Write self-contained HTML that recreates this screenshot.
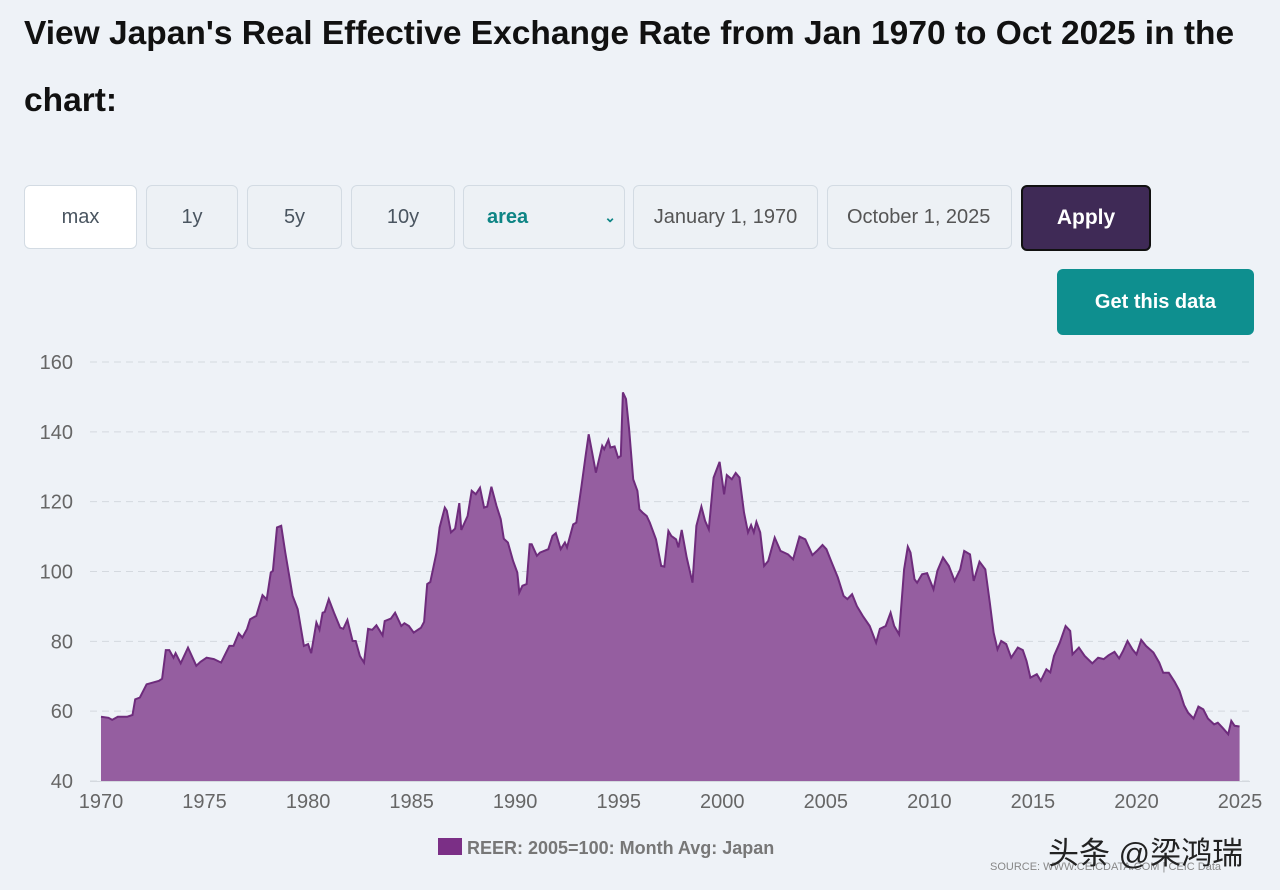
<!DOCTYPE html>
<html><head><meta charset="utf-8">
<style>
body{margin:0;width:1280px;height:890px;background:#eef2f7;font-family:"Liberation Sans",sans-serif;position:relative;overflow:hidden}
h1{position:absolute;left:24px;top:0px;margin:0;font-size:33.5px;font-weight:bold;color:#111;line-height:67px;width:1250px}
.btn{position:absolute;top:185px;height:64px;box-sizing:border-box;border:1px solid #d3dbe3;border-radius:6px;background:#edf1f5;color:#4a5560;font-size:20px;display:flex;align-items:center;justify-content:center}
#chart{position:absolute;left:0;top:0}
</style></head><body>
<h1>View Japan's Real Effective Exchange Rate from Jan 1970 to Oct 2025 in the chart:</h1>
<div class="btn" style="left:24px;width:113px;background:#fff">max</div>
<div class="btn" style="left:146px;width:92px">1y</div>
<div class="btn" style="left:247px;width:95px">5y</div>
<div class="btn" style="left:351px;width:104px">10y</div>
<div class="btn" style="left:463px;width:162px;justify-content:space-between;padding:0 8px 0 23px;color:#0e8585;font-weight:bold">area<span style="font-size:14px;color:#0e8585">&#8964;</span></div>
<div class="btn" style="left:633px;width:185px;color:#555">January 1, 1970</div>
<div class="btn" style="left:827px;width:185px;color:#555;overflow:hidden;justify-content:flex-start;padding-left:19px;white-space:nowrap">October 1, 2025</div>
<div class="btn" style="left:1021px;width:130px;height:66px;background:#3f2a56;border:2px solid #111;color:#fff;font-weight:bold;font-size:21px">Apply</div>
<div class="btn" style="left:1057px;top:269px;width:197px;height:66px;background:#0e8f8f;border:none;color:#fff;font-weight:bold;font-size:20px">Get this data</div>
<svg id="chart" width="1280" height="890"></svg>
<div style="position:absolute;left:990px;top:861px;font-size:11px;color:#888">SOURCE: WWW.CEICDATA.COM | CEIC Data</div>
<div style="position:absolute;left:1048px;top:828px;font-size:31px;color:#222;font-family:'Liberation Sans','Noto Sans CJK SC',sans-serif">头条 @梁鸿瑞</div>
<script>
const years=[1970.0,1970.36,1970.54,1970.81,1971.26,1971.52,1971.65,1971.88,1972.2,1972.8,1972.95,1973.13,1973.3,1973.5,1973.6,1973.85,1974.2,1974.6,1974.8,1975.1,1975.45,1975.8,1976.2,1976.4,1976.65,1976.83,1977.05,1977.2,1977.5,1977.8,1978.0,1978.2,1978.3,1978.5,1978.7,1978.9,1979.25,1979.5,1979.8,1980.0,1980.15,1980.4,1980.55,1980.7,1980.8,1981.0,1981.25,1981.55,1981.7,1981.9,1982.15,1982.3,1982.5,1982.7,1982.9,1983.1,1983.3,1983.6,1983.7,1984.0,1984.2,1984.5,1984.65,1984.87,1985.1,1985.45,1985.6,1985.75,1985.9,1986.2,1986.35,1986.6,1986.7,1986.9,1987.1,1987.3,1987.4,1987.7,1987.9,1988.1,1988.3,1988.5,1988.65,1988.85,1989.1,1989.3,1989.45,1989.65,1989.9,1990.1,1990.2,1990.35,1990.55,1990.7,1990.8,1991.05,1991.2,1991.6,1991.8,1991.96,1992.2,1992.4,1992.5,1992.8,1992.95,1993.2,1993.4,1993.55,1993.7,1993.9,1994.2,1994.3,1994.5,1994.6,1994.8,1994.97,1995.1,1995.2,1995.35,1995.5,1995.7,1995.9,1996.0,1996.15,1996.35,1996.5,1996.8,1997.05,1997.2,1997.4,1997.54,1997.77,1997.88,1998.04,1998.28,1998.56,1998.75,1998.99,1999.17,1999.35,1999.58,1999.87,2000.09,2000.22,2000.46,2000.65,2000.83,2001.05,2001.24,2001.39,2001.52,2001.65,2001.83,2002.02,2002.22,2002.53,2002.81,2003.18,2003.42,2003.73,2004.01,2004.35,2004.57,2004.84,2005.03,2005.27,2005.58,2005.86,2006.04,2006.27,2006.5,2006.78,2007.12,2007.43,2007.61,2007.89,2008.13,2008.3,2008.54,2008.78,2008.96,2009.09,2009.28,2009.41,2009.65,2009.89,2010.2,2010.39,2010.66,2010.94,2011.22,2011.49,2011.68,2011.96,2012.14,2012.42,2012.7,2012.92,2013.1,2013.29,2013.47,2013.71,2013.95,2014.27,2014.51,2014.69,2014.88,2015.19,2015.38,2015.65,2015.84,2016.02,2016.3,2016.58,2016.8,2016.91,2017.22,2017.5,2017.87,2018.15,2018.42,2018.65,2018.94,2019.16,2019.35,2019.57,2019.81,2020.0,2020.23,2020.46,2020.82,2021.1,2021.29,2021.56,2021.84,2022.08,2022.3,2022.49,2022.76,2022.99,2023.23,2023.45,2023.75,2023.93,2024.15,2024.43,2024.58,2024.74,2024.98];
const reer=[58.4,58.1,57.5,58.4,58.4,58.9,63.4,63.9,67.7,68.7,69.3,77.5,77.5,75.3,76.6,73.7,78.2,73.0,74.1,75.3,74.9,73.9,78.7,78.7,82.3,81.1,83.5,86.3,87.3,93.2,92,99.7,100.2,112.6,113.1,105.4,93,89.2,78.7,79.2,76.6,85.4,83.3,88.2,88.4,92.1,88.2,83.9,83.6,86.1,80.1,80.1,75.8,73.9,83.6,83.3,84.6,81.7,85.8,86.5,88.2,84.4,85.2,84.4,82.5,83.9,85.6,96.4,97,105.4,112.6,118.3,117.4,111.2,112.3,119.6,111.9,115.9,123.1,122.1,124,118.3,118.6,124.3,118.8,115,109.4,108.3,103,99.7,94,95.9,96.4,107.8,107.8,104.5,105.4,106.4,110.2,111,106.4,108.3,106.9,113.5,114,124.5,133.1,139.3,134.6,128.3,136,135,137.7,135.5,135.8,132.6,133.1,151.3,149.4,140.8,126.4,123.1,117.8,116.9,115.9,114,109.2,101.6,101.4,111.6,110.2,109.2,106.9,111.9,104,96.8,113.1,118.6,114.5,112.1,126.9,131.4,122.1,127.6,126.4,128.2,126.9,116.9,111.2,113.3,111.2,114.2,111.2,101.6,103,109.7,105.9,104.9,103.5,110,109.2,104.7,105.9,107.6,106.4,102.8,98.3,93,92.1,93.5,90.1,87.3,84.4,79.6,83.6,84.4,88.2,84.4,82,100.6,107.1,105.4,97.8,96.8,99.2,99.5,94.9,100.2,104,101.6,97.3,100.6,105.9,104.9,97.3,102.8,100.6,91.1,82.5,77.7,80.1,79.2,75.3,78.2,77.5,74.4,69.6,70.6,68.7,72,71.1,75.8,79.6,84.4,83,76.3,78.2,75.8,73.7,75.3,74.9,76,77,75.1,77.2,80.1,77.7,76.3,80.4,78.7,76.8,73.9,71,71,68.4,65.8,61.7,59.6,57.9,61.3,60.5,57.9,56.2,56.7,55.3,53.4,57.2,55.8,55.6];
const yTicks=[40,60,80,100,120,140,160];
const xTicks=[1970,1975,1980,1985,1990,1995,2000,2005,2010,2015,2020,2025];
const legendLabel="REER: 2005=100: Month Avg: Japan";

const svg=document.getElementById('chart');
const NS='http://www.w3.org/2000/svg';
const xS=v=>101+(v-1970)*(1240-101)/55;
const yS=v=>781-(v-40)*(781-362)/120;
function mk(t,a){const e=document.createElementNS(NS,t);for(const k in a)e.setAttribute(k,a[k]);svg.appendChild(e);return e;}
yTicks.forEach(t=>{
  const l=mk('line',{x1:90,x2:1250,y1:yS(t),y2:yS(t),stroke:'#d4d9df','stroke-dasharray':'7,5','stroke-width':1});
  
  
  const tx=mk('text',{x:73,y:yS(t)+7,'text-anchor':'end','font-size':20,fill:'#666','font-family':'Liberation Sans, sans-serif'});
  tx.textContent=t;
  
  
});
xTicks.forEach(t=>{
  const tx=mk('text',{x:xS(t),y:808,'text-anchor':'middle','font-size':20,fill:'#666','font-family':'Liberation Sans, sans-serif'});
  tx.textContent=t;
  
  
});
let d='M'+xS(years[0])+','+yS(40);
years.forEach((y,i)=>{d+=' L'+xS(y).toFixed(1)+','+yS(reer[i]).toFixed(1);});
d+=' L'+xS(years[years.length-1])+','+yS(40)+' Z';
const area=mk('path',{d:d,fill:'#955ea0'});


let ld='';
years.forEach((y,i)=>{ld+=(i?' L':'M')+xS(y).toFixed(1)+','+yS(reer[i]).toFixed(1);});
const line=mk('path',{d:ld,fill:'none',stroke:'#6e2c7c','stroke-width':2});


const ax=mk('line',{x1:90,x2:1250,y1:781.5,y2:781.5,stroke:'#d4d9df'});


const sw=mk('rect',{x:438,y:838,width:24,height:17,fill:'#7b2f86'});


const lt=mk('text',{x:467,y:854,'font-size':18,'font-weight':'bold',fill:'#777','font-family':'Liberation Sans, sans-serif'});
lt.textContent=legendLabel;


</script>
</body></html>
